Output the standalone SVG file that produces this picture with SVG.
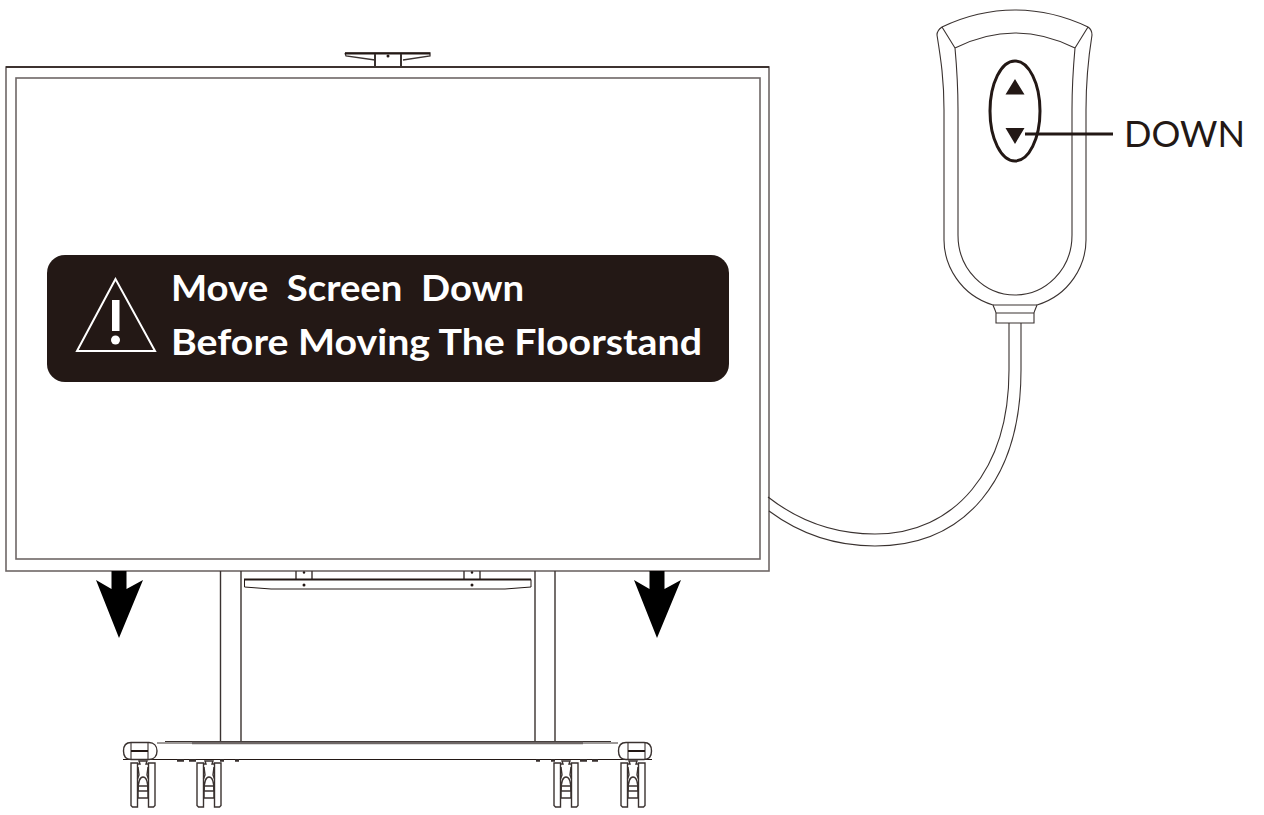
<svg xmlns="http://www.w3.org/2000/svg" width="1264" height="815" viewBox="0 0 1264 815">
<style>
.l{fill:none;stroke:#3a3230;stroke-width:1.4}
.c{fill:none;stroke:#3a3230;stroke-width:1.1}
.g{fill:none;stroke:#6e6766;stroke-width:1.6}
.k{fill:#231815}
.t{font-family:Lato,"Noto Sans",sans-serif}
</style>
<defs>
<g id="caster">
<path class="l" d="M0 0H6.500V44H1.500L0 42.500ZM24 0H17.500V44H22.500L24 42.500Z"/>
<path class="l" d="M6.500 1H9L8 -2H16L15 1H17.500"/>
<path class="l" d="M7 4L8 12 6.500 16M17 4L16 12 17.500 16M7 28C7 19 9 14 12 14 15 14 17 19 17 28"/>
<path class="l" d="M7 23H17V35H7ZM7 28H17"/>
</g>
<path id="arrow" d="M-7.500 -67H7.500V-49L24 -58 0 0 -23 -58 -7.500 -49Z" fill="#000"/>
</defs>
<g id="screen">
<rect class="g" x="6" y="67" width="763" height="504"/>
<rect class="g" x="16" y="78" width="744" height="481"/>
<path d="M6 67H769" fill="none" stroke="#231815" stroke-width="1.300"/>
</g>
<g id="top-bracket">
<path d="M345 53H430V56L403 60M375 60L346 56 345 53" fill="none" stroke="#3a3230" stroke-width="1.300"/>
<path d="M345 53.500H430" stroke="#231815" stroke-width="2"/>
<path d="M375 54V66M401 54V66" stroke="#3a3230" stroke-width="2"/>
<circle class="k" cx="388" cy="56" r="1.500"/>
</g>
<g id="warning">
<rect class="k" x="47" y="255" width="682" height="127" rx="18"/>
<path d="M115.500 279L77 351H155Z" fill="none" stroke="#fff" stroke-width="2"/>
<rect x="112" y="300" width="7.500" height="31" fill="#fff"/>
<circle cx="115.500" cy="340" r="4.500" fill="#fff"/>
<text class="t" x="171" y="301" font-size="36" font-weight="700" fill="#fff" textLength="353" lengthAdjust="spacingAndGlyphs" xml:space="preserve">Move  Screen  Down</text>
<text class="t" x="171" y="355" font-size="36" font-weight="700" fill="#fff" textLength="531" lengthAdjust="spacingAndGlyphs">Before Moving The Floorstand</text>
</g>
<g id="stand">
<path class="l" d="M220.500 571V741M241 571V741M535 571V741M555 571V741"/>
<path class="l" d="M296 571V579M312 571V579M464 571V579M480 571V579"/>
<path d="M244.500 579.500H531V587L505 589H271L244.500 587Z" fill="#fff" stroke="#231815" stroke-width="1"/>
<path d="M244 579.500H531" stroke="#231815" stroke-width="2"/>
<circle class="k" cx="304" cy="585" r="1.500"/><circle class="k" cx="472" cy="585" r="1.500"/>
<circle class="k" cx="304" cy="572.500" r="1.200"/><circle class="k" cx="472" cy="572.500" r="1.200"/>
</g>
<g id="base">
<path class="c" d="M165 741.500H611"/>
<path d="M192 743H583" stroke="#6e6766" stroke-width="2.500"/>
<path d="M157 743H192M583 743H618" stroke="#3a3230" stroke-width="1"/>
<path d="M123 759.500H652" stroke="#231815" stroke-width="1.200"/>
<path class="l" d="M131 742.500H149C154 742.500 157 746 157 751 157 756 154 759.500 149 759.500H131C126 759.500 123.500 756 123.500 751 123.500 746 126 742.500 131 742.500Z" fill="#fff"/>
<path class="c" d="M131 742.500V759.500M148 742.500V759.500"/>
<path d="M131 751H148" stroke="#231815" stroke-width="2"/>
<path class="l" d="M626 742.500H644C649 742.500 651.500 746 651.500 751 651.500 756 649 759.500 644 759.500H626C621 759.500 618.500 756 618.500 751 618.500 746 621 742.500 626 742.500Z"/>
<path class="c" d="M628 742.500V759.500M645 742.500V759.500"/>
<path d="M628 751H645" stroke="#231815" stroke-width="2"/>
<path d="M177 760.500H184M189 760.500H196M220 760.500H224M235 760.500H239M536 760.500H540M551 760.500H555M580 760.500H587M592 760.500H598" stroke="#3a3230" stroke-width="2.500"/>
</g>
<g id="casters">
<use href="#caster" x="131" y="763"/>
<use href="#caster" x="197" y="763"/>
<use href="#caster" x="554" y="763"/>
<use href="#caster" x="621" y="763"/>
</g>
<g id="arrow-left"><use href="#arrow" x="119" y="638"/></g>
<g id="arrow-right"><use href="#arrow" x="657" y="638"/></g>
<g id="remote">
<path class="c" d="M942 27C965 16 990 10 1015 10 1040 10 1065 16 1088 27 1091 29 1092 31 1092 35 1088 60 1086 80 1086 110V240C1086 265 1070 295 1037 305 1035 310 1034 312 1034 313V323H996V313C996 312 995 310 993 305 960 295 944 265 944 240V110C944 80 941 60 937 35 937 31 939 29 942 27Z"/>
<path class="c" d="M955 48C975 38 995 33 1015 33 1035 33 1055 38 1075 48 1073 70 1072 90 1072 110V235C1072 270 1045 295 1015 295 985 295 958 270 958 235V110C958 90 957 70 955 48ZM942 27L955 48M1088 27L1075 48M993 305H1037M996 313H1034"/>
<ellipse cx="1015" cy="111" rx="25" ry="50" fill="none" stroke="#231815" stroke-width="3"/>
<path class="k" d="M1015 79L1024.500 94.500H1005.500ZM1005.500 128H1024.500L1015 144Z"/>
</g>
<g id="connectors">
<path class="c" d="M1009 323V370C1009 470 955 534 875 534 835 534 800 522 768 497"/>
<path class="c" d="M1021 323V370C1021 480 965 546 875 546 835 546 800 534 769 511"/>
<path d="M1025 134H1113" stroke="#231815" stroke-width="3"/>
</g>
<text id="down-label" class="t" x="1124" y="147" font-size="36" fill="#231815" font-weight="400" textLength="121" lengthAdjust="spacingAndGlyphs">DOWN</text>
</svg>
